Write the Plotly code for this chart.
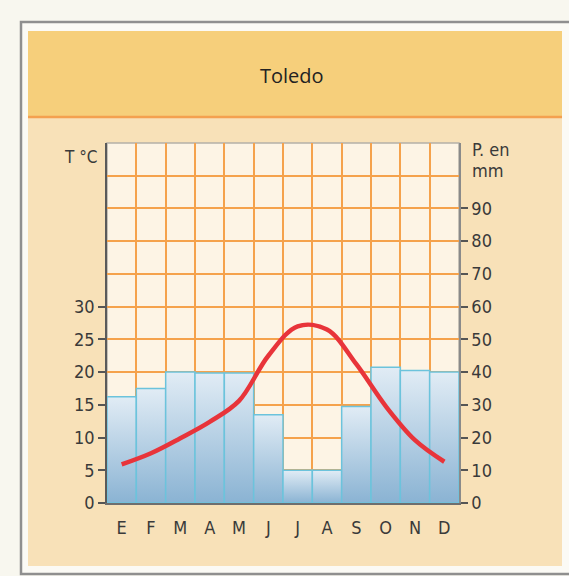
import plotly.graph_objects as go

# climograma de Toledo
meses = ["E", "F", "M", "A", "M", "J", "J", "A", "S", "O", "N", "D"]
precipitacion = [32.5, 35, 40, 39.7, 39.7, 27, 10, 10, 29.5, 41.5, 40.5, 40]  # mm
temperatura = [5.9, 7.6, 9.9, 12.4, 15.6, 22.5, 27.0, 26.5, 21.2, 14.8, 9.6, 6.3]  # °C
ticks_temp = [0, 5, 10, 15, 20, 25, 30]
ticks_prec = [0, 10, 20, 30, 40, 50, 60, 70, 80, 90]

W, H = 569, 576
PL, PR, PT, PB = 107, 459, 143, 503  # plot area in pixels


def px(x):
    return (x - PL) / (PR - PL)


def py(y):
    return (PB - y) / (PB - PT)


ORANGE = "#f5a24c"
TXT = "#3a3a3a"
FONT = "Liberation Sans Narrow, DejaVu Sans Condensed, Roboto, sans-serif"

fig = go.Figure()

# bars as filled boxes so each one can carry its own gradient
for i, p in enumerate(precipitacion):
    fig.add_trace(go.Scatter(
        x=[i - 0.5, i - 0.5, i + 0.5, i + 0.5, i - 0.5],
        y=[0, p, p, 0, 0],
        mode="lines", fill="toself",
        line=dict(color="#6cc3dc", width=1.5),
        fillgradient=dict(type="vertical",
                          colorscale=[[0, "#8ab3d3"], [1, "#e1ecf5"]]),
        hoverinfo="skip", showlegend=False,
    ))

fig.add_trace(go.Scatter(
    x=list(range(len(meses))), y=temperatura, yaxis="y2",
    mode="lines", line=dict(color="#e8343a", width=4.5, shape="spline", smoothing=1),
    showlegend=False,
))

shapes = [
    dict(type="rect", xref="paper", yref="paper", layer="below",
         x0=px(21), x1=px(578), y0=py(22), y1=py(574),
         line=dict(color="#8f8f8f", width=2.5), fillcolor="#fbfaf5"),
    dict(type="rect", xref="paper", yref="paper", layer="below",
         x0=px(28), x1=px(562), y0=py(117), y1=py(566),
         line=dict(width=0), fillcolor="#f8e1b8"),
    dict(type="rect", xref="paper", yref="paper", layer="below",
         x0=px(28), x1=px(562), y0=py(31), y1=py(116),
         line=dict(width=0), fillcolor="#f6cf7b"),
    dict(type="line", xref="paper", yref="paper", layer="below",
         x0=px(28), x1=px(562), y0=py(117), y1=py(117),
         line=dict(color="#f4a04f", width=2.5)),
    dict(type="rect", xref="paper", yref="paper", layer="below",
         x0=0, x1=1, y0=0, y1=1,
         line=dict(color="#b4b0a8", width=1.5), fillcolor="#fdf4e5"),
]

annotations = [
    dict(text="Toledo", xref="paper", yref="paper", x=px(292), y=py(75),
         yanchor="middle", showarrow=False,
         font=dict(family="Open Sans, sans-serif", size=20, color="#222")),
    dict(text="T °C", xref="paper", yref="paper", x=px(100), y=py(157),
         xanchor="right", yanchor="middle", showarrow=False,
         font=dict(family=FONT, size=17, color=TXT)),
    dict(text="P. en", xref="paper", yref="paper", x=px(470), y=py(149),
         xanchor="left", yanchor="middle", showarrow=False,
         font=dict(family=FONT, size=18, color=TXT)),
    dict(text="mm", xref="paper", yref="paper", x=px(470), y=py(170),
         xanchor="left", yanchor="middle", showarrow=False,
         font=dict(family=FONT, size=18, color=TXT)),
]

fig.update_layout(
    width=W, height=H,
    margin=dict(l=PL, r=W - PR, t=PT, b=H - PB),
    paper_bgcolor="#f8f7ef", plot_bgcolor="rgba(0,0,0,0)",
    shapes=shapes, annotations=annotations,
    font=dict(family=FONT, size=18, color=TXT),
    xaxis=dict(
        range=[-0.5, len(meses) - 0.5], tickvals=list(range(len(meses))), ticktext=meses,
        showgrid=False, zeroline=False, ticks="", ticklabelstandoff=8,
        showline=True, linecolor="#6e6e6e", linewidth=1.5,
        minor=dict(tickvals=[i - 0.5 for i in range(len(meses) + 1)], showgrid=True,
                   gridcolor=ORANGE, gridwidth=1.5, ticks=""),
    ),
    yaxis=dict(
        side="right", range=[0, 110], tickvals=ticks_prec,
        showgrid=True, gridcolor=ORANGE, gridwidth=1.5, zeroline=False,
        ticks="outside", ticklen=7, tickwidth=1.5, tickcolor="#555",
        showline=True, linecolor="#8a8a8a", linewidth=1.5,
        minor=dict(tickvals=[100], showgrid=True, gridcolor=ORANGE, gridwidth=1.5, ticks=""),
    ),
    yaxis2=dict(
        overlaying="y", side="left", range=[0, 55], tickvals=ticks_temp,
        showgrid=False, zeroline=False,
        ticks="outside", ticklen=7, tickwidth=1.5, tickcolor="#555",
        showline=True, linecolor="#5a5a5a", linewidth=1.5,
    ),
)

# page margin off so the figure sits at the window's corner
fig.write_html("out.html", config={"displayModeBar": False},
               post_script="document.body.style.margin='0';")
